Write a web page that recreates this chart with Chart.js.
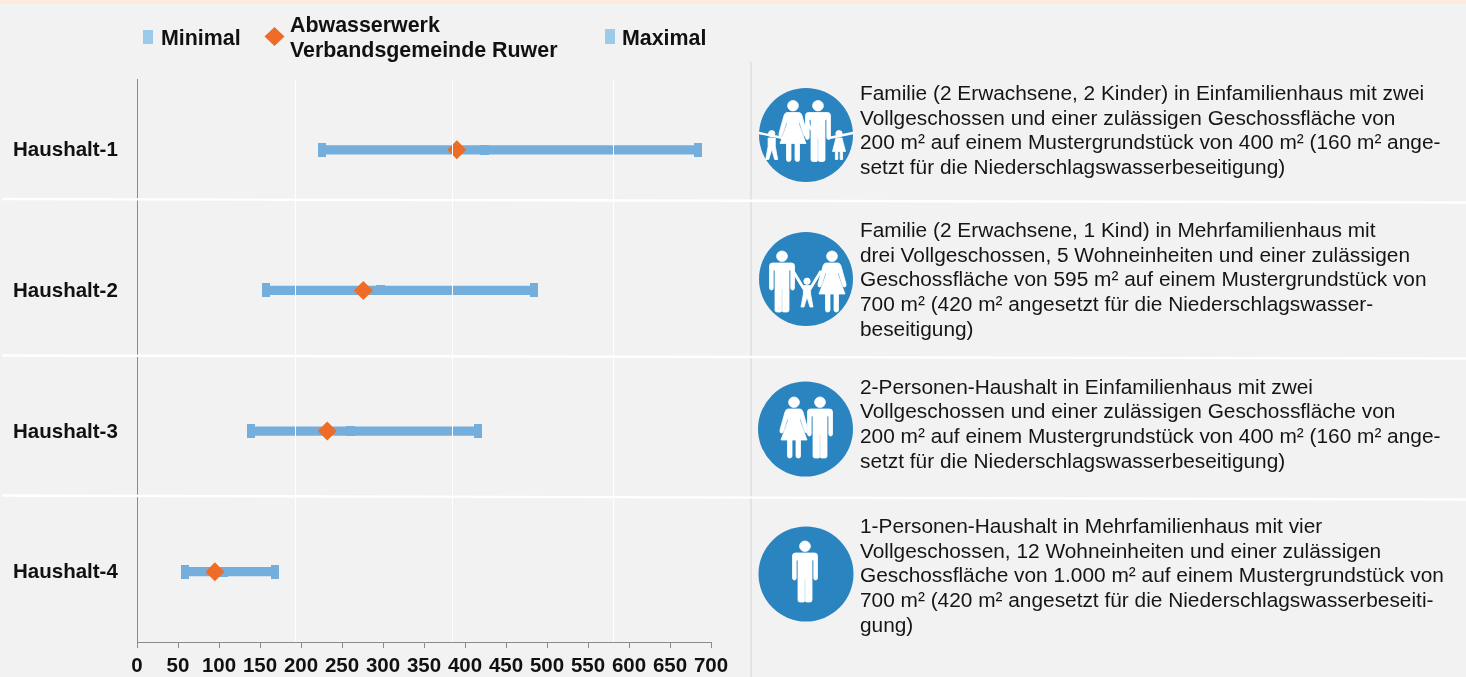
<!DOCTYPE html>
<html lang="de">
<head>
<meta charset="utf-8">
<title>Haushalte</title>
<script src="https://cdn.jsdelivr.net/npm/chart.js@4"></script>
<style>
    html, body { margin: 0; padding: 0; }
    body { width: 1466px; height: 677px; background: #f2f2f2; overflow: hidden; position: relative;
           font-family: "Liberation Sans", Arial, sans-serif; color: #111; }
    #topStrip { position: absolute; left: 0; top: 0; width: 1466px; height: 4px; background: #fdeadd; }
    canvas { position: absolute; left: 0; top: 0; }
    svg { position: absolute; left: 0; top: 0; }
    .leg { position: absolute; font-weight: bold; font-size: 21.4px; line-height: 25px; white-space: nowrap; }
    .legBox { position: absolute; background: #9ccbea; }
    .desc { position: absolute; left: 860px; font-size: 20.85px; line-height: 24.7px; white-space: nowrap; color: #151515; }
</style>
</head>
<body>
<div id="topStrip"></div>
<canvas id="chartCanvas" width="1466" height="677"></canvas>

<svg width="1466" height="677" viewBox="0 0 1466 677">
    <defs>
        <g id="man">
            <ellipse cx="0" cy="5.2" rx="5.4" ry="5.2"/>
            <path d="M-9.5 12 H9.5 Q12.5 12 12.5 15 V37 Q12.5 39 10.5 39 Q8.8 39 8.8 37 V19 H7 V59 Q7 61 5 61 H1.5 Q.6 61 .4 60 V38 H-.4 V60 Q-.6 61 -1.5 61 H-5 Q-7 61 -7 59 V19 H-8.8 V37 Q-8.8 39 -10.5 39 Q-12.5 39 -12.5 37 V15 Q-12.5 12 -9.5 12 Z"/>
        </g>
        <g id="woman">
            <ellipse cx="0" cy="5.2" rx="5.4" ry="5.2"/>
            <path d="M-6 12 H6 Q8 12 9 15 L14 33 Q14.5 36 12.5 36 Q11 36 10.5 34 L6 20 V24 L13 43 H6.5 V59 Q6.5 61 4.5 61 Q2 61 2 59 V43 H-2 V59 Q-2 61 -4.5 61 Q-6.5 61 -6.5 59 V43 H-13 L-6 24 V20 L-10.5 34 Q-11 36 -12.5 36 Q-14.5 36 -14 33 L-9 15 Q-8 12 -6 12 Z"/>
        </g>
        <g id="boy">
            <circle cx="0" cy="3.2" r="3.2"/>
            <path d="M-3.6 7.5 H3.6 V16 L6 29 H3 L0 19 L-3 29 H-6 L-3.6 16 Z"/>
        </g>
        <g id="girl">
            <circle cx="0" cy="3.2" r="3.2"/>
            <path d="M-3 7.5 H3 L6.5 21 H3.6 V29 H1.2 V21 H-1.2 V29 H-3.6 V21 H-6.5 Z"/>
        </g>
    </defs>

    <g id="icons" fill="#2a84c0">
        <circle cx="806" cy="135" r="47"/>
        <circle cx="806" cy="279" r="47"/>
        <circle cx="805.5" cy="429" r="47.5"/>
        <circle cx="806" cy="574" r="47.5"/>
    </g>

    <!-- Familie 2+2 -->
    <g fill="#fff" stroke="#fff" stroke-width="0.8" transform="translate(750 80)">
        <use href="#woman" x="43" y="20.5"/>
        <use href="#man" x="68" y="20.5"/>
        <use href="#boy" x="21.7" y="50.5"/>
        <use href="#girl" x="89" y="50.5"/>
        <path d="M9 53 L33 58 M103 53 L79 58 M54 50 L58 43 L61 50" stroke-width="2.4" fill="none"/>
    </g>
    <!-- Familie 2+1 -->
    <g fill="#fff" stroke="#fff" stroke-width="0.8" transform="translate(750 225)">
        <use href="#man" x="32" y="26"/>
        <use href="#woman" x="82" y="26"/>
        <use href="#boy" x="57" y="53"/>
        <path d="M43 46 L54 64 M71 46 L60 64" stroke-width="3" fill="none"/>
    </g>
    <!-- 2 Personen -->
    <g fill="#fff" stroke="#fff" stroke-width="0.8" transform="translate(750 375)">
        <use href="#woman" x="44" y="22"/>
        <use href="#man" x="70" y="22"/>
    </g>
    <!-- 1 Person -->
    <g fill="#fff" stroke="#fff" stroke-width="0.8" transform="translate(750 520)">
        <use href="#man" x="55" y="21"/>
    </g>

    <line x1="751" y1="62" x2="751" y2="677" stroke="#d4d4d4" stroke-width="1"/>
    <g stroke="#fff" stroke-width="2.4">
        <line x1="2" y1="199" x2="1466" y2="202.5"/>
        <line x1="2" y1="355.5" x2="1466" y2="358.5"/>
        <line x1="2" y1="495.5" x2="1466" y2="499.5"/>
    </g>
    <polygon points="274.5,27 284.5,36.5 274.5,46 264.5,36.5" fill="#ee6c27"/>
</svg>

<div class="legBox" style="left:143px;top:30px;width:10px;height:14px"></div>
<div class="leg" style="left:161px;top:26px" id="legMin"></div>
<div class="leg" style="left:290px;top:12.5px" id="legOwn"></div>
<div class="legBox" style="left:605px;top:29px;width:10px;height:15px"></div>
<div class="leg" style="left:622px;top:26px" id="legMax"></div>

<div class="desc" style="top:81px" id="desc0"></div>
<div class="desc" style="top:218px" id="desc1"></div>
<div class="desc" style="top:374.5px" id="desc2"></div>
<div class="desc" style="top:514px" id="desc3"></div>

<script>
const categories = ['Haushalt-1', 'Haushalt-2', 'Haushalt-3', 'Haushalt-4'];
const minValues = [225, 157, 139, 58];
const maxValues = [684, 484, 416, 168];
const ownValues = [390, 276, 232, 95];
const midValues = [424, 297, 260, 106];

const xTicks = [0, 50, 100, 150, 200, 250, 300, 350, 400, 450, 500, 550, 600, 650, 700];
// the white gridlines in the picture do not sit on the ticks
const gridValues = [193, 385, 581];

const legendNames = { min: 'Minimal', own: ['Abwasserwerk', 'Verbandsgemeinde Ruwer'], max: 'Maximal' };

const descriptions = [
    ['Familie (2 Erwachsene, 2 Kinder) in Einfamilienhaus mit zwei',
     'Vollgeschossen und einer zulässigen Geschossfläche von',
     '200 m² auf einem Mustergrundstück von 400 m² (160 m² ange-',
     'setzt für die Niederschlagswasserbeseitigung)'],
    ['Familie (2 Erwachsene, 1 Kind) in Mehrfamilienhaus mit',
     'drei Vollgeschossen, 5 Wohneinheiten und einer zulässigen',
     'Geschossfläche von 595 m² auf einem Mustergrundstück von',
     '700 m² (420 m² angesetzt für die Niederschlagswasser-',
     'beseitigung)'],
    ['2-Personen-Haushalt in Einfamilienhaus mit zwei',
     'Vollgeschossen und einer zulässigen Geschossfläche von',
     '200 m² auf einem Mustergrundstück von 400 m² (160 m² ange-',
     'setzt für die Niederschlagswasserbeseitigung)'],
    ['1-Personen-Haushalt in Mehrfamilienhaus mit vier',
     'Vollgeschossen, 12 Wohneinheiten und einer zulässigen',
     'Geschossfläche von 1.000 m² auf einem Mustergrundstück von',
     '700 m² (420 m² angesetzt für die Niederschlagswasserbeseiti-',
     'gung)']
];

document.getElementById('legMin').textContent = legendNames.min;
document.getElementById('legMax').textContent = legendNames.max;
document.getElementById('legOwn').innerHTML = legendNames.own.join('<br>');
descriptions.forEach((lines, i) => {
    document.getElementById('desc' + i).innerHTML = lines.join('<br>');
});

function boxMarker(w, h, color)
{
    const c = document.createElement('canvas');
    c.width = w;
    c.height = h;
    const g = c.getContext('2d');
    g.fillStyle = color;
    g.fillRect(0, 0, w, h);
    return c;
}

const barColor = '#74aedc';
const axisColor = '#8a8a8a';
const labelFont = { family: '"Liberation Sans", Arial, sans-serif', size: 20.5, weight: 'bold' };

new Chart(document.getElementById('chartCanvas'), {
    data: {
        labels: categories,
        datasets: [
            {
                type: 'line',
                label: 'Abwasserwerk Verbandsgemeinde Ruwer',
                data: ownValues,
                showLine: false,
                pointStyle: 'rectRot',
                pointRadius: 9.5,
                pointBackgroundColor: '#ee6c27',
                pointBorderWidth: 0,
                order: 0
            },
            {
                type: 'line',
                label: 'Minimal',
                data: minValues,
                showLine: false,
                pointStyle: boxMarker(8, 14, barColor),
                order: 1
            },
            {
                type: 'line',
                label: 'Maximal',
                data: maxValues,
                showLine: false,
                pointStyle: boxMarker(8, 14, barColor),
                order: 1
            },
            {
                type: 'line',
                label: 'Mittel',
                data: midValues,
                showLine: false,
                pointStyle: boxMarker(9, 10, barColor),
                order: 2
            },
            {
                type: 'bar',
                label: 'Spanne',
                data: categories.map((c, i) => [minValues[i], maxValues[i]]),
                backgroundColor: barColor,
                barThickness: 8.5,
                order: 3
            }
        ]
    },
    options: {
        indexAxis: 'y',
        responsive: false,
        animation: false,
        layout: { padding: { left: 13, right: 755, top: 79.5, bottom: 0 } },
        plugins: { legend: { display: false }, tooltip: { enabled: false } },
        scales: {
            x: {
                type: 'linear',
                position: 'bottom',
                min: 0,
                max: 700,
                afterBuildTicks: (scale) => { scale.ticks = xTicks.map(v => ({ value: v })); },
                afterFit: (scale) => { scale.height = 35; },
                grid: { color: 'rgba(0,0,0,0)', drawOnChartArea: false, tickColor: axisColor, tickLength: 6 },
                border: { color: axisColor },
                ticks: { color: '#111', font: labelFont, autoSkip: false, maxRotation: 0, padding: 6 }
            },
            gridX: {
                type: 'linear',
                axis: 'x',
                position: 'top',
                min: 0,
                max: 700,
                afterBuildTicks: (scale) => { scale.ticks = gridValues.map(v => ({ value: v })); },
                afterFit: (scale) => { scale.height = 0; },
                grid: { color: '#ffffff', lineWidth: 1, drawTicks: false, z: 1 },
                border: { display: false },
                ticks: { display: false }
            },
            y: {
                type: 'category',
                offset: true,
                afterFit: (scale) => { scale.width = 124; },
                grid: { display: false },
                border: { color: axisColor },
                ticks: { color: '#111', font: labelFont, crossAlign: 'far', padding: 0, labelOffset: 1 }
            }
        }
    }
});
</script>
</body>
</html>
